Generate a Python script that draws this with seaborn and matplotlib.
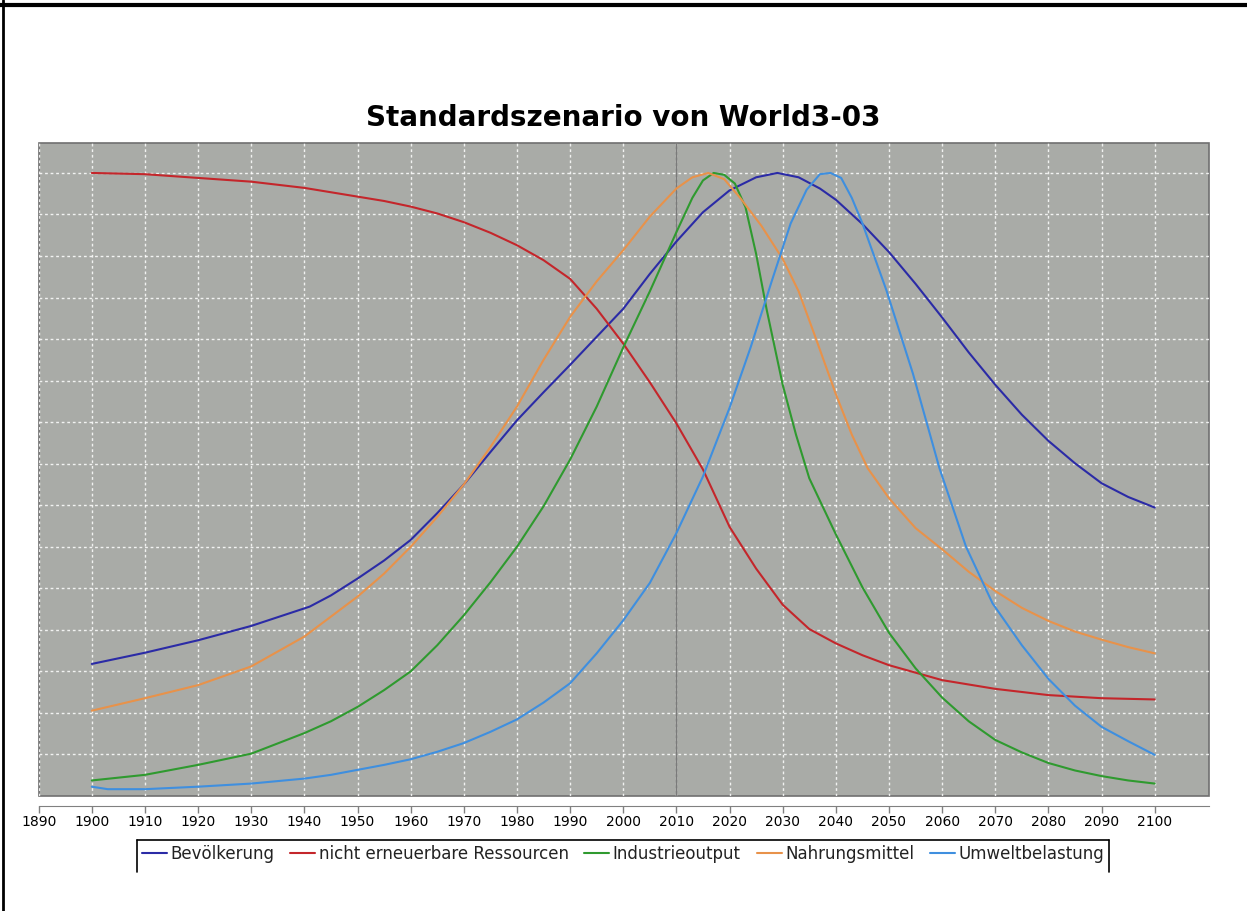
import pandas as pd
import matplotlib.pyplot as plt
import seaborn as sns
import numpy as np
from matplotlib.lines import Line2D

# values (normalised, peak = 1)
bev_years = [1900, 1910, 1920, 1930, 1941, 1945, 1950, 1955, 1960, 1965, 1970, 1975, 1980, 1985,
             1990, 1995, 2000, 2005, 2010, 2015, 2020, 2025, 2029, 2033, 2037, 2040, 2045, 2050,
             2055, 2060, 2065, 2070, 2075, 2080, 2085, 2090, 2095, 2100]
bev_vals = [0.212, 0.230, 0.250, 0.273, 0.304, 0.322, 0.349, 0.378, 0.411, 0.454, 0.500, 0.552, 0.603, 0.648,
            0.692, 0.737, 0.782, 0.838, 0.890, 0.937, 0.972, 0.993, 1.0, 0.993, 0.975, 0.957, 0.918, 0.873,
            0.822, 0.768, 0.712, 0.660, 0.612, 0.570, 0.534, 0.502, 0.480, 0.463]

res_years = [1900, 1910, 1920, 1930, 1940, 1950, 1955, 1960, 1965, 1970, 1975, 1980, 1985, 1990,
             1995, 2000, 2005, 2010, 2015, 2020, 2025, 2030, 2035, 2040, 2045, 2050, 2060, 2070,
             2080, 2090, 2100]
res_vals = [1.0, 0.998, 0.992, 0.986, 0.976, 0.962, 0.955, 0.946, 0.935, 0.921, 0.904, 0.884, 0.860, 0.830,
            0.782, 0.726, 0.664, 0.598, 0.524, 0.432, 0.365, 0.307, 0.268, 0.245, 0.226, 0.210, 0.186, 0.172,
            0.162, 0.157, 0.155]

ind_years = [1900, 1910, 1920, 1930, 1940, 1945, 1950, 1955, 1960, 1965, 1970, 1975, 1980, 1985,
             1990, 1995, 2000, 2005, 2010, 2013, 2015, 2017, 2019, 2021, 2023, 2025, 2027, 2030,
             2032.5, 2035, 2040, 2045, 2050, 2055, 2060, 2065, 2070, 2075, 2080, 2085, 2090, 2095, 2100]
ind_vals = [0.025, 0.034, 0.050, 0.068, 0.101, 0.120, 0.143, 0.170, 0.200, 0.242, 0.290, 0.343, 0.400, 0.465,
            0.540, 0.625, 0.720, 0.810, 0.905, 0.960, 0.988, 1.0, 0.997, 0.983, 0.945, 0.870, 0.780, 0.660,
            0.580, 0.510, 0.420, 0.335, 0.262, 0.205, 0.158, 0.120, 0.090, 0.070, 0.053, 0.041, 0.032, 0.025, 0.020]

nah_years = [1900, 1910, 1920, 1930, 1940, 1950, 1955, 1960, 1965, 1970, 1975, 1980, 1985, 1990,
             1995, 2000, 2005, 2010, 2013, 2016, 2019, 2022, 2026, 2030, 2033, 2036, 2040, 2043,
             2046, 2050, 2055, 2060, 2065, 2070, 2075, 2080, 2085, 2090, 2095, 2100]
nah_vals = [0.137, 0.157, 0.178, 0.208, 0.256, 0.320, 0.357, 0.400, 0.448, 0.500, 0.560, 0.625, 0.700, 0.769,
            0.826, 0.876, 0.930, 0.975, 0.993, 1.0, 0.990, 0.960, 0.915, 0.862, 0.810, 0.740, 0.645, 0.580,
            0.526, 0.478, 0.430, 0.396, 0.360, 0.329, 0.302, 0.281, 0.264, 0.251, 0.239, 0.229]

umw_years = [1900, 1903, 1910, 1920, 1930, 1940, 1945, 1950, 1955, 1960, 1965, 1970, 1975, 1980,
             1985, 1990, 1995, 2000, 2005, 2010, 2015, 2020, 2024, 2028, 2031.5, 2034.5, 2037, 2039,
             2041, 2043, 2045, 2049.5, 2054.5, 2059.5, 2064.5, 2069.5, 2075, 2080, 2085, 2090, 2095, 2100]
umw_vals = [0.015, 0.011, 0.011, 0.015, 0.020, 0.028, 0.034, 0.042, 0.050, 0.059, 0.071, 0.085, 0.103, 0.123,
            0.150, 0.181, 0.229, 0.282, 0.342, 0.422, 0.513, 0.623, 0.721, 0.828, 0.919, 0.973, 0.998, 1.0,
            0.992, 0.960, 0.919, 0.812, 0.678, 0.526, 0.400, 0.309, 0.242, 0.188, 0.145, 0.111, 0.088, 0.066]

labels = ["Bevölkerung", "nicht erneuerbare Ressourcen", "Industrieoutput",
          "Nahrungsmittel", "Umweltbelastung"]
colors = ["#2b2ba6", "#c4262b", "#2f9a2f", "#e8924a", "#3f8fdf"]
x_ticks = list(range(1890, 2101, 10))
marker_year = 2010

series = [(bev_years, bev_vals), (res_years, res_vals), (ind_years, ind_vals),
          (nah_years, nah_vals), (umw_years, umw_vals)]
df = pd.concat([pd.DataFrame({"Jahr": yrs, "Wert": vals, "Reihe": lab})
                for (yrs, vals), lab in zip(series, labels)], ignore_index=True)

sns.set_style("white")
plt.rcParams['font.family'] = ['DejaVu Sans']

fig = plt.figure(figsize=(12.47, 9.11), dpi=100)
ax = fig.add_axes([0.031, 0.1262, 0.9389, 0.7172])
ax.set_facecolor("#a9aba7")

sns.lineplot(data=df, x="Jahr", y="Wert", hue="Reihe", palette=dict(zip(labels, colors)),
             hue_order=labels, sort=False, estimator=None, linewidth=1.5, ax=ax, legend=False)

ax.set_xlim(1890, 2110.3)
ax.set_ylim(0, 1.0486)
ax.set_xticks(x_ticks)
ax.set_yticks(np.arange(1, 16) / 15)
ax.set_yticklabels([])
ax.tick_params(axis='y', length=0)
ax.tick_params(axis='x', bottom=True, direction='out', length=5, width=1,
               color='#808080', labelsize=10, labelcolor='black', pad=2)
ax.grid(True, color='white', linestyle=(0, (2, 2)), linewidth=1, alpha=0.85)
ax.set_axisbelow(True)
ax.axvline(marker_year, color='#7a7a7a', linewidth=1, zorder=1)
ax.set_xlabel("")
ax.set_ylabel("")

for s in ["top", "left", "right"]:
    ax.spines[s].set_visible(False)
ax.spines["bottom"].set_position(("outward", 7))
ax.spines["bottom"].set_color("#808080")
ax.patch.set_edgecolor("#707070")
ax.patch.set_linewidth(1.2)

fig.text(0.5, 0.870, "Standardszenario von World3-03", ha='center', va='center',
         fontsize=20, fontweight='bold', color='black')

handles = [Line2D([], [], color=c, linewidth=1.5) for c in colors]
leg = fig.legend(handles, labels, ncol=5, loc='upper center', bbox_to_anchor=(0.4996, 1 - 840 / 911),
                 frameon=False, fontsize=12, handlelength=1.5, handletextpad=0.2,
                 columnspacing=0.95, borderpad=0.3, borderaxespad=0)
for t in leg.get_texts():
    t.set_color('#222222')

# legend box, open at the bottom (cut off in the reference)
fig.canvas.draw()
bb = leg.get_window_extent().transformed(fig.transFigure.inverted())
y_cut = 1 - 872 / 911
box_kw = dict(color='black', linewidth=1.2, transform=fig.transFigure)
fig.add_artist(Line2D([bb.x0, bb.x1], [bb.y1, bb.y1], **box_kw))
fig.add_artist(Line2D([bb.x0, bb.x0], [bb.y1, y_cut], **box_kw))
fig.add_artist(Line2D([bb.x1, bb.x1], [bb.y1, y_cut], **box_kw))

# page frame lines
fig.add_artist(Line2D([0, 1], [1 - 4.5 / 911, 1 - 4.5 / 911], color='black', linewidth=3,
                      transform=fig.transFigure))
fig.add_artist(Line2D([3 / 1247, 3 / 1247], [0, 1], color='black', linewidth=2,
                      transform=fig.transFigure))

fig.savefig("out.png", dpi=100)
